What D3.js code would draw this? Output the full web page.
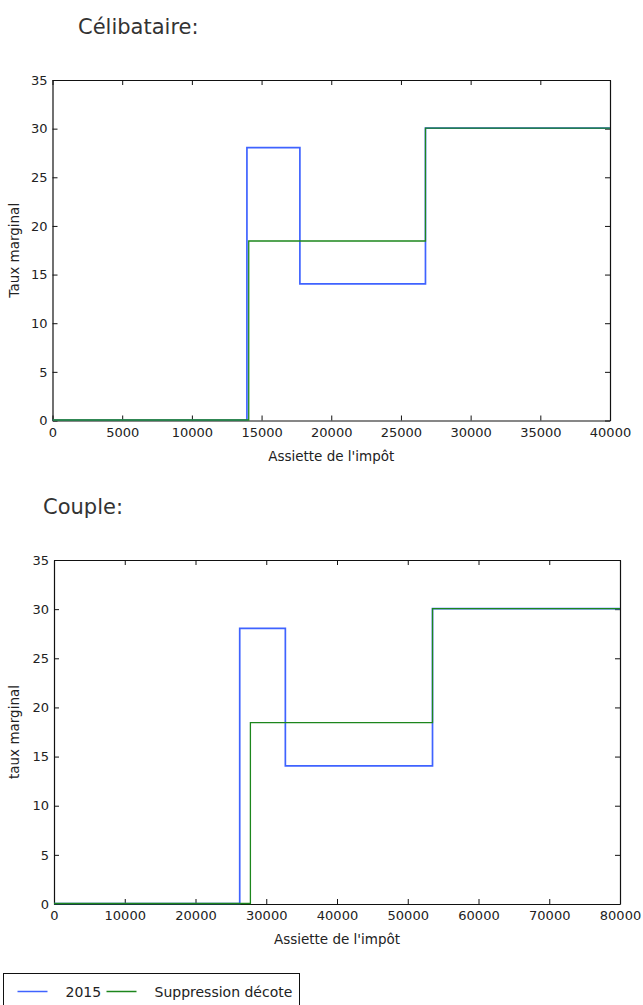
<!DOCTYPE html>
<html>
<head>
<meta charset="utf-8">
<script src="https://cdn.jsdelivr.net/npm/d3@7"></script>
<style>
  body { margin: 0; background: #fff; }
  svg text { font-family: "DejaVu Sans", sans-serif; fill: #222; }
</style>
</head>
<body>
<div id="chart-area"></div>
<script>
// Data (x = assiette, y = taux marginal in %)
let celibX2015 = [0, 13950, 17750, 26760, 40000];
let celibRate2015 = [0, 28, 14, 30, 30];
let celibXSupp = [0, 14080, 26760, 40000];
let celibRateSupp = [0, 18.4, 30, 30];

let coupleX2015 = [0, 26250, 32700, 53500, 80000];
let coupleRate2015 = [0, 28, 14, 30, 30];
let coupleXSupp = [0, 27760, 53500, 80000];
let coupleRateSupp = [0, 18.4, 30, 30];

let yTicks = [0, 5, 10, 15, 20, 25, 30, 35];
let celibXTicks = [0, 5000, 10000, 15000, 20000, 25000, 30000, 35000, 40000];
let coupleXTicks = [0, 10000, 20000, 30000, 40000, 50000, 60000, 70000, 80000];

let seriesNames = ["2015", "Suppression décote"];
let seriesColors = ["#3f63ff", "#1c861c"];

let svg = d3.select("#chart-area").append("svg")
    .attr("width", 643)
    .attr("height", 1005);

function zip(xs, ys) {
    return xs.map((x, i) => ({x: x, y: ys[i]}));
}

function drawPanel(opts) {
    let width = opts.right - opts.left,
        height = opts.bottom - opts.top;

    // title above the panel
    svg.append("text")
        .attr("x", opts.titleX)
        .attr("y", opts.titleY)
        .style("font-size", "21px")
        .style("fill", "#333")
        .text(opts.title);

    let g = svg.append("g")
        .attr("transform", "translate(" + opts.left + "," + opts.top + ")");

    let x = d3.scaleLinear().domain([0, opts.xMax]).range([0, width]);
    let y = d3.scaleLinear().domain([0, 35]).range([height, 0]);

    // axes, matplotlib classic style: ticks inside on all sides
    g.append("g")
        .attr("class", "x-axis")
        .attr("transform", `translate(0,${height})`)
        .call(d3.axisBottom(x).tickValues(opts.xTicks).tickFormat(d3.format("d"))
            .tickSizeInner(-5).tickSizeOuter(0).tickPadding(7));
    g.append("g")
        .attr("class", "x-axis-top")
        .call(d3.axisTop(x).tickValues(opts.xTicks).tickFormat("")
            .tickSizeInner(-5).tickSizeOuter(0));
    g.append("g")
        .attr("class", "y-axis")
        .call(d3.axisLeft(y).tickValues(yTicks).tickFormat(d3.format("d"))
            .tickSizeInner(-5).tickSizeOuter(0).tickPadding(9));
    g.append("g")
        .attr("class", "y-axis-right")
        .attr("transform", `translate(${width},0)`)
        .call(d3.axisRight(y).tickValues(yTicks).tickFormat("")
            .tickSizeInner(-5).tickSizeOuter(0));

    g.selectAll(".domain").attr("stroke", "#111").attr("stroke-width", 1.2);
    g.selectAll(".tick line").attr("stroke", "#111");
    g.selectAll(".tick text").style("font-size", "13px").attr("fill", "#222");
    g.selectAll(".y-axis .tick text").attr("x", -5);

    // step lines, clipped to the plot (a little slack at the bottom so y=0 shows)
    let clipId = "clip-" + opts.id;
    g.append("clipPath").attr("id", clipId)
      .append("rect").attr("y", -1).attr("width", width).attr("height", height + 2);

    let line = d3.line()
        .x(d => x(d.x))
        .y(d => y(d.y) - 0.5)
        .curve(d3.curveStepAfter);

    opts.series.forEach((s, i) => {
        g.append("path")
            .datum(s)
            .attr("clip-path", "url(#" + clipId + ")")
            .attr("fill", "none")
            .attr("stroke", seriesColors[i])
            .attr("stroke-width", i === 0 ? 1.7 : 1.3)
            .attr("d", line);
    });

    // axis labels
    g.append("text")
        .attr("x", width / 2)
        .attr("y", height + 40)
        .attr("text-anchor", "middle")
        .style("font-size", "13.5px")
        .text("Assiette de l'impôt");

    g.append("text")
        .attr("transform", `translate(${14 - opts.left},${height / 2}) rotate(-90)`)
        .attr("text-anchor", "middle")
        .attr("dy", "0.35em")
        .style("font-size", "13.5px")
        .text(opts.yLabel);
}

drawPanel({
    id: "celib", title: "Célibataire:", titleX: 78, titleY: 34,
    left: 52.5, right: 610, top: 80, bottom: 420.5,
    xMax: 40000, xTicks: celibXTicks, yLabel: "Taux marginal",
    series: [zip(celibX2015, celibRate2015), zip(celibXSupp, celibRateSupp)]
});

drawPanel({
    id: "couple", title: "Couple:", titleX: 43, titleY: 514,
    left: 54, right: 620, top: 560, bottom: 904,
    xMax: 80000, xTicks: coupleXTicks, yLabel: "taux marginal",
    series: [zip(coupleX2015, coupleRate2015), zip(coupleXSupp, coupleRateSupp)]
});

// legend
let legend = svg.append("g").attr("transform", "translate(3.5,973.5)");
legend.append("rect")
    .attr("width", 296).attr("height", 40)
    .attr("fill", "#fff").attr("stroke", "#111").attr("stroke-width", 1);
let legendX = [[14, 44, 62], [103, 133, 151]];
seriesNames.forEach((name, i) => {
    legend.append("line")
        .attr("x1", legendX[i][0]).attr("x2", legendX[i][1])
        .attr("y1", 18).attr("y2", 18)
        .attr("stroke", seriesColors[i]).attr("stroke-width", 1.5);
    legend.append("text")
        .attr("x", legendX[i][2]).attr("y", 23)
        .style("font-size", "14px")
        .text(name);
});
</script>
</body>
</html>
